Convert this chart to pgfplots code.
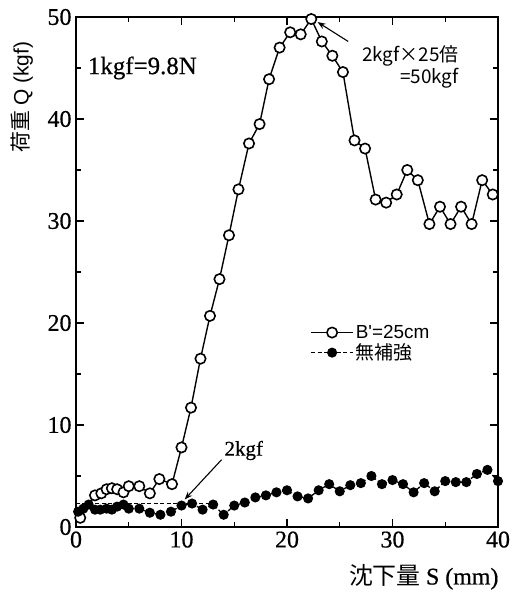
\documentclass[border=0pt]{standalone}
\usepackage{fontspec}
\usepackage{pgfplots}
\pgfplotsset{compat=1.18}
\usetikzlibrary{arrows.meta}
\setmainfont{Liberation Serif}[FakeBold=0.6,AutoFakeBold=0.6]
\newfontfamily\sans{Liberation Sans}
\newfontfamily\cjk{Noto Sans CJK JP}

% load-settlement data
\pgfplotstableread{
x y
0.4 0.9
1.8 3.1
2.4 3.3
2.9 3.7
3.4 3.8
3.9 3.7
4.5 3.4
5.0 4.0
6.0 4.0
7.0 3.3
7.9 4.7
9.1 4.2
10.0 7.8
10.9 11.7
11.8 16.5
12.7 20.7
13.6 24.3
14.5 28.6
15.4 33.1
16.4 37.6
17.4 39.5
18.3 43.9
19.3 47.0
20.3 48.5
21.3 48.3
22.3 49.8
23.3 47.6
24.3 46.2
25.3 44.6
26.4 37.9
27.4 37.1
28.4 32.1
29.4 31.8
30.4 32.6
31.4 35.0
32.4 34.0
33.5 29.7
34.5 31.4
35.5 29.7
36.5 31.4
37.5 29.7
38.5 34.0
39.5 32.6
}\reinforced

\pgfplotstableread{
x y
0.2 1.5
0.7 1.8
1.2 2.2
1.8 1.7
2.3 1.7
2.9 1.8
3.4 1.7
3.9 2.0
4.5 2.2
5.0 1.8
6.0 1.8
7.0 1.4
8.0 1.2
9.0 1.5
10.0 2.1
11.0 2.3
12.0 1.7
13.0 2.2
14.0 1.2
15.0 2.1
16.0 2.4
17.0 2.9
18.0 3.1
19.0 3.4
20.0 3.6
21.0 3.0
22.0 2.8
23.0 3.6
24.0 4.2
25.0 3.5
26.0 4.1
27.0 4.3
28.0 5.0
29.0 4.2
30.0 4.6
31.0 4.2
32.0 3.4
33.0 4.3
34.0 3.5
35.0 4.5
36.0 4.4
37.0 4.4
38.0 5.2
39.0 5.6
40.0 4.5
}\plain

\begin{document}
\begin{tikzpicture}
\useasboundingbox (0,0) rectangle (527bp,597bp);
\begin{axis}[
  at={(76bp,70bp)}, anchor=south west,
  width=422bp, height=510bp, scale only axis,
  xmin=0, xmax=40, ymin=0, ymax=50,
  xtick={0,10,...,40}, ytick={0,10,...,50},
  minor tick num=1,
  tick align=inside,
  major tick length=8bp, minor tick length=5bp,
  axis line style={line width=1.7pt},
  every tick/.style={line width=1.3pt, black},
  /pgf/number format/assume math mode=true,
  tick label style={font=\fontsize{24}{24}\selectfont},
  xticklabel style={yshift=-1bp},
  yticklabel style={xshift=-1bp},
  clip=false,
  legend cell align=left,
  legend style={draw=none, fill=none, at={(axis cs:22.2,20.0)}, anchor=north west,
    inner sep=0pt, row sep=0pt,
    font=\fontsize{19}{20}\selectfont},
  legend image code/.code={\draw[mark repeat=2,mark phase=2,#1] plot coordinates {(0bp,0bp) (21bp,0bp) (42bp,0bp)};},
]
\addplot[black, line width=1.4pt, mark=*, mark size=5.2pt,
  mark options={solid, fill=white, draw=black, line width=1.6pt}] table[x=x,y=y] {\reinforced};
\addlegendentry{\sans B'=25cm}
\addplot[black, line width=1.3pt, dash pattern=on 4pt off 2.5pt, mark=*, mark size=4.4pt,
  mark options={solid}] table[x=x,y=y] {\plain};
\addlegendentry{\cjk 無補強}
% 2 kgf reference level
\addplot[black, line width=1.1pt, dash pattern=on 4pt off 2.5pt, forget plot] coordinates {(0,2.3) (13.5,2.3)};

\node[anchor=west, font=\fontsize{25}{25}\selectfont] at (axis cs:0.8,45) {1kgf=9.8N};
\node[anchor=north east, align=right, font=\cjk\fontsize{19}{22}\selectfont] at (axis cs:36.6,47.5) {2kgf×25倍\\=50kgf};
\draw[-{Stealth[length=8bp,width=6bp]}, line width=1.1pt] (axis cs:25.8,47.6) -- (axis cs:22.9,49.5);
\node[font=\fontsize{21}{21}\selectfont] at (axis cs:15.9,7.5) {2kgf};
\draw[-{Stealth[length=8bp,width=6bp]}, line width=1.1pt] (axis cs:13.8,6.6) -- (axis cs:10.3,2.7);
\end{axis}
\node[rotate=90, font=\fontsize{21}{21}\selectfont] at (22bp,500bp) {\cjk 荷重 \sans Q (kgf)};
\node[anchor=east, font=\fontsize{24}{24}\selectfont] at (502bp,20bp) {\cjk 沈下量\ \rmfamily S (mm)};
\end{tikzpicture}
\end{document}
